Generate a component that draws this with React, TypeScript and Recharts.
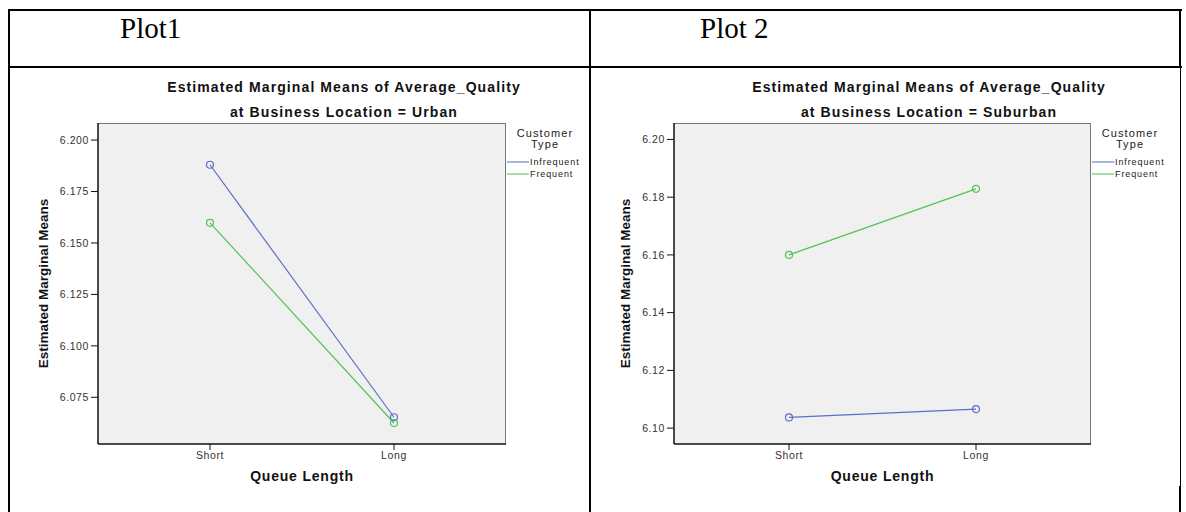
import { LineChart, Line, XAxis, YAxis, CartesianGrid } from 'recharts';

const queueLengths = ['Short', 'Long'];
const seriesNames = ['Infrequent', 'Frequent'];

const urbanInfrequent = [6.188, 6.0653];
const urbanFrequent = [6.1598, 6.0625];
const suburbanInfrequent = [6.1037, 6.1066];
const suburbanFrequent = [6.16, 6.1829];

const urbanTicks = [6.075, 6.1, 6.125, 6.15, 6.175, 6.2];
const suburbanTicks = [6.1, 6.12, 6.14, 6.16, 6.18, 6.2];

const BLUE = '#5b6fc9';
const GREEN = '#55c257';
const SANS = '"Liberation Sans", Arial, sans-serif';

const buildRows = (infrequent: number[], frequent: number[]) =>
  queueLengths.map((q, i) => ({ q, Infrequent: infrequent[i], Frequent: frequent[i] }));

function LegendBox({ left }: { left: number }) {
  return (
    <div style={{ position: 'absolute', left, top: 60, fontFamily: SANS, color: '#222', width: 90 }}>
      <div style={{ width: 80, marginLeft: -2, textAlign: 'center', fontSize: 11, letterSpacing: 1.1, lineHeight: '11px' }}>
        Customer
        <br />
        Type
      </div>
      {seriesNames.map((name, i) => (
        <div key={name} style={{ display: 'flex', alignItems: 'center', height: 12, marginTop: i === 0 ? 6 : 0 }}>
          <svg width={22} height={4}>
            <line x1={0} y1={2} x2={22} y2={2} stroke={i === 0 ? BLUE : GREEN} strokeWidth={1.3} opacity={0.8} />
          </svg>
          <span style={{ fontSize: 9, letterSpacing: 0.9, marginLeft: 1 }}>{name}</span>
        </div>
      ))}
    </div>
  );
}

interface PlotProps {
  left: number;
  width: number;
  location: string;
  infrequent: number[];
  frequent: number[];
  ticks: number[];
  domain: [number, number];
  digits: number;
  margin: { top: number; right: number; bottom: number; left: number };
  pad: number;
  titleCenter: number;
  labelOffset: number;
  legendLeft: number;
}

function EmmPlot(p: PlotProps) {
  const data = buildRows(p.infrequent, p.frequent);
  const tickStyle = { fontSize: 10.5, fill: '#333', letterSpacing: 0.6, fontFamily: SANS };
  const titleStyle = {
    position: 'absolute' as const,
    left: p.titleCenter - 250,
    width: 500,
    textAlign: 'center' as const,
    fontFamily: SANS,
    fontWeight: 'bold' as const,
    fontSize: 14,
    letterSpacing: 1.1,
    lineHeight: '16px',
    color: '#111',
  };
  return (
    <div style={{ position: 'absolute', left: p.left, top: 68, width: p.width, height: 444 }}>
      <LineChart width={p.width} height={444} data={data} margin={p.margin}>
        <CartesianGrid
          fill="#f0f0f0"
          stroke="#777"
          horizontalCoordinatesGenerator={({ offset }: any) => [offset.top + 0.5]}
          verticalCoordinatesGenerator={({ offset }: any) => [offset.left + offset.width - 0.5]}
        />
        <XAxis
          dataKey="q"
          height={40}
          padding={{ left: p.pad, right: p.pad }}
          axisLine={{ stroke: '#111', strokeWidth: 1.5 }}
          tickLine={{ stroke: '#111' }}
          tickSize={6}
          tickMargin={2}
          tick={tickStyle}
          label={{
            value: 'Queue Length',
            position: 'insideBottom',
            offset: 3,
            style: { fontSize: 14, fontWeight: 'bold', fill: '#111', letterSpacing: 0.8, fontFamily: SANS },
          }}
        />
        <YAxis
          type="number"
          width={60}
          domain={p.domain}
          ticks={p.ticks}
          allowDataOverflow
          tickFormatter={(v: number) => v.toFixed(p.digits)}
          axisLine={{ stroke: '#111', strokeWidth: 1.5 }}
          tickLine={{ stroke: '#111' }}
          tickSize={7}
          tickMargin={2}
          tick={tickStyle}
          label={{
            value: 'Estimated Marginal Means',
            angle: -90,
            position: 'insideLeft',
            offset: p.labelOffset,
            style: {
              textAnchor: 'middle',
              fontSize: 13.5,
              fontWeight: 'bold',
              fill: '#111',
              fontFamily: '"Liberation Sans Narrow", "Arial Narrow", "Liberation Sans", sans-serif',
            },
          }}
        />
        {seriesNames.map((name, i) => (
          <Line
            key={name}
            dataKey={name}
            stroke={i === 0 ? BLUE : GREEN}
            strokeWidth={1.2}
            dot={{ r: 3.5, fill: 'none', stroke: i === 0 ? BLUE : GREEN, strokeWidth: 1.2 }}
            activeDot={false}
            isAnimationActive={false}
          />
        ))}
      </LineChart>
      <LegendBox left={p.legendLeft} />
      <div style={{ ...titleStyle, top: 11 }}>Estimated Marginal Means of Average_Quality</div>
      <div style={{ ...titleStyle, top: 36 }}>at Business Location = {p.location}</div>
    </div>
  );
}

export default function App() {
  const line = (style: React.CSSProperties) => <div style={{ position: 'absolute', background: '#000', ...style }} />;
  const header = { position: 'absolute' as const, top: 12, fontFamily: '"Liberation Serif", "Times New Roman", serif', fontSize: 29, color: '#000' };
  return (
    <div style={{ position: 'absolute', left: 0, top: 0, width: 1186, height: 512, background: '#fff', overflow: 'hidden' }}>
      <EmmPlot
        left={10}
        width={578}
        location="Urban"
        infrequent={urbanInfrequent}
        frequent={urbanFrequent}
        ticks={urbanTicks}
        domain={[6.0523, 6.2083]}
        digits={3}
        margin={{ top: 55, right: 82, bottom: 28, left: 28 }}
        pad={112}
        titleCenter={334}
        labelOffset={5.5}
        legendLeft={497}
      />
      <EmmPlot
        left={592}
        width={586}
        location="Suburban"
        infrequent={suburbanInfrequent}
        frequent={suburbanFrequent}
        ticks={suburbanTicks}
        domain={[6.0945, 6.2057]}
        digits={2}
        margin={{ top: 55, right: 87, bottom: 28, left: 22 }}
        pad={115}
        titleCenter={337}
        labelOffset={11}
        legendLeft={500}
      />
      {line({ left: 8, top: 9, width: 1174, height: 2 })}
      {line({ left: 8, top: 66, width: 1174, height: 2 })}
      {line({ left: 8, top: 9, width: 2, height: 503 })}
      {line({ left: 589, top: 9, width: 2, height: 503 })}
      {line({ left: 1179, top: 9, width: 2, height: 59 })}
      {line({ left: 1180, top: 66, width: 1, height: 446 })}
      {line({ left: 1179, top: 486, width: 2, height: 26 })}
      <div style={{ ...header, left: 120 }}>Plot1</div>
      <div style={{ ...header, left: 700 }}>Plot 2</div>
    </div>
  );
}
